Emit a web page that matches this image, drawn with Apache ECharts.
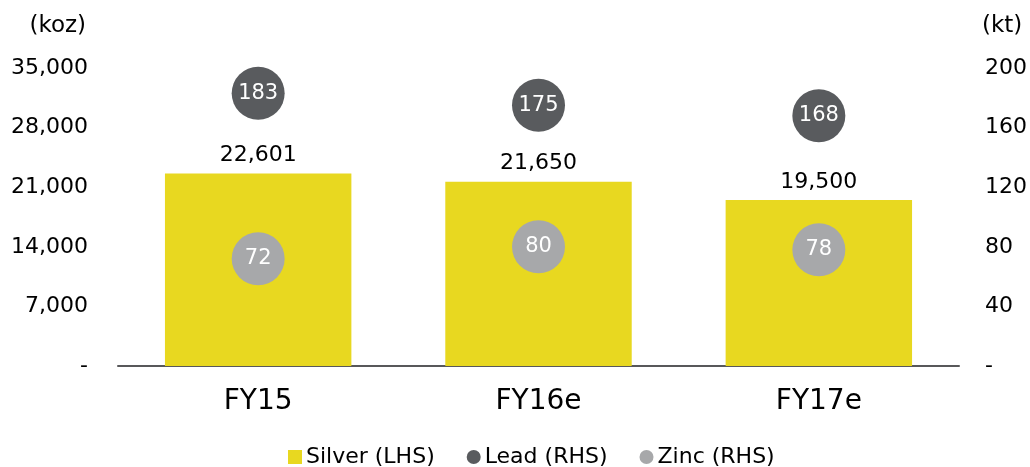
<!DOCTYPE html>
<html><head><meta charset="utf-8">
<script src="https://cdn.jsdelivr.net/npm/echarts@6/dist/echarts.min.js"></script>
<style>html,body{margin:0;padding:0;background:#fff}#c{width:1030px;height:467px}</style>
</head><body><div id="c"></div>
<script>
const categories = ['FY15', 'FY16e', 'FY17e'];
const silver = [22601, 21650, 19500];
const lead = [183, 175, 168];
const zinc = [72, 80, 78];
const leftTicks = [0, 7000, 14000, 21000, 28000, 35000];
const rightTicks = [0, 40, 80, 120, 160, 200];

const F = 'DejaVu Sans, sans-serif';
const chart = echarts.init(document.getElementById('c'));
chart.setOption({
  animation: false,
  textStyle: { fontFamily: F },
  grid: { left: 118, right: 68, top: 68, bottom: 101 },
  legend: {
    top: 441, left: 283, itemGap: 32, itemWidth: 14, itemHeight: 14,
    textStyle: { fontSize: 22, color: '#000', fontFamily: F, padding: [0, 0, 0, -1] },
    data: [{ name: 'Silver (LHS)', icon: 'rect' }, { name: 'Lead (RHS)', icon: 'circle' }, { name: 'Zinc (RHS)', icon: 'circle' }]
  },
  xAxis: {
    type: 'category', data: categories,
    axisLine: { lineStyle: { color: '#58585a', width: 2 } },
    axisTick: { show: false },
    axisLabel: { fontSize: 28, color: '#000', margin: 22, fontFamily: F }
  },
  yAxis: [{
    type: 'value', min: leftTicks[0], max: leftTicks[leftTicks.length - 1], interval: 7000,
    name: '(koz)', nameLocation: 'end', nameGap: 30,
    nameTextStyle: { fontSize: 23, color: '#000', align: 'right', padding: [0, 32, 0, 0], fontFamily: F },
    splitLine: { show: false }, axisLine: { show: false }, axisTick: { show: false },
    axisLabel: { fontSize: 22, color: '#000', margin: 30, fontFamily: F,
      formatter: v => v === 0 ? '-' : v.toLocaleString('en-US') }
  }, {
    type: 'value', min: rightTicks[0], max: rightTicks[rightTicks.length - 1], interval: 40,
    name: '(kt)', nameLocation: 'end', nameGap: 30,
    nameTextStyle: { fontSize: 23, color: '#000', align: 'left', padding: [0, 0, 0, 23], fontFamily: F },
    splitLine: { show: false }, axisLine: { show: false }, axisTick: { show: false },
    axisLabel: { fontSize: 22, color: '#000', margin: 26, fontFamily: F,
      formatter: v => v === 0 ? '-' : String(v) }
  }],
  series: [{
    name: 'Silver (LHS)', type: 'bar', data: silver, yAxisIndex: 0, barWidth: '66.5%',
    itemStyle: { color: '#e8d820' },
    label: { show: true, position: 'top', distance: 7, fontSize: 22, color: '#000', fontFamily: F,
      formatter: p => p.value.toLocaleString('en-US') }
  }, {
    name: 'Lead (RHS)', type: 'scatter', data: lead, yAxisIndex: 1, symbolSize: 53,
    itemStyle: { color: '#595b5e', opacity: 1 },
    label: { show: true, position: 'inside', fontSize: 21, color: '#fff', fontFamily: F }
  }, {
    name: 'Zinc (RHS)', type: 'scatter', data: zinc, yAxisIndex: 1, symbolSize: 53,
    itemStyle: { color: '#a7a8aa', opacity: 1 },
    label: { show: true, position: 'inside', fontSize: 21, color: '#fff', fontFamily: F }
  }]
});
</script></body></html>
